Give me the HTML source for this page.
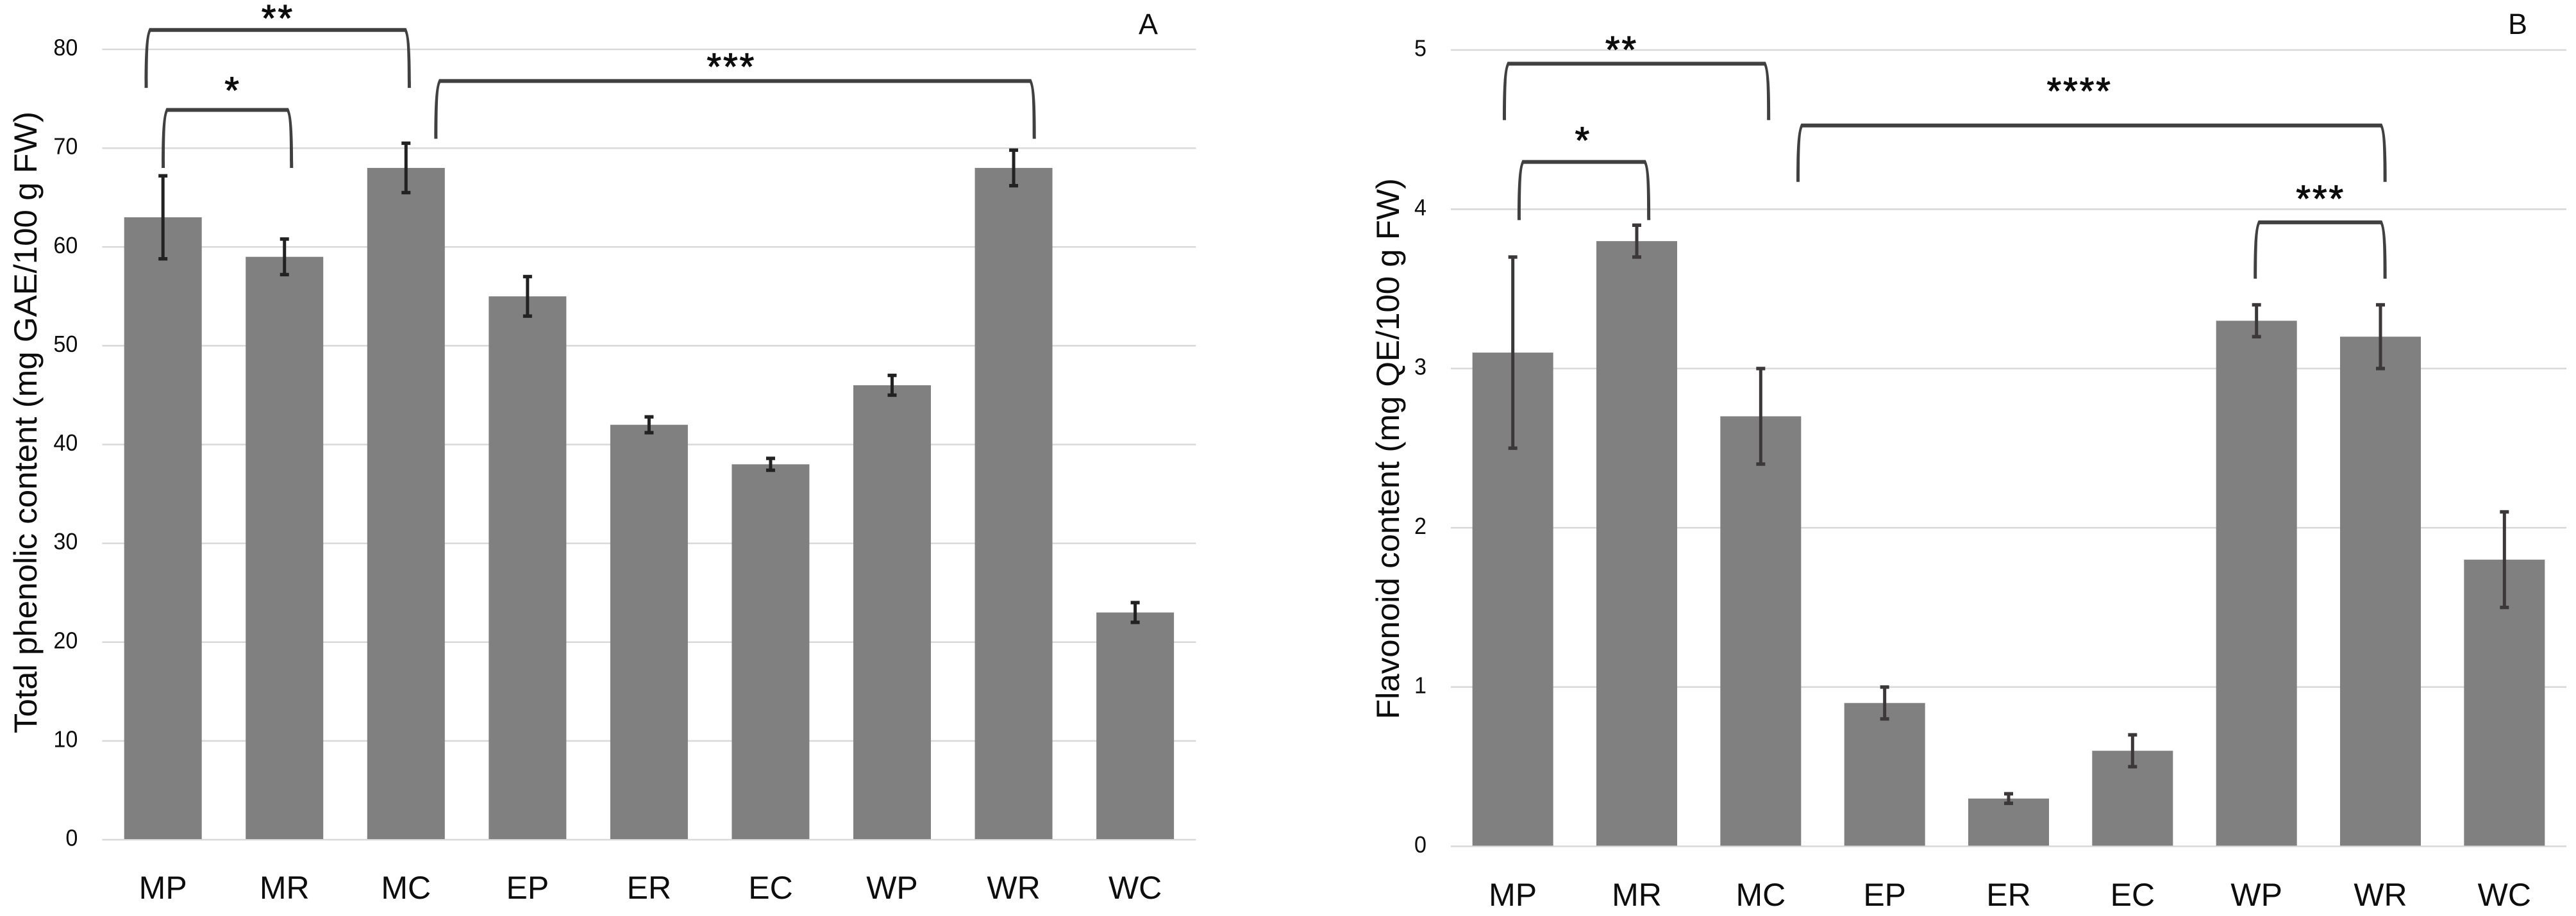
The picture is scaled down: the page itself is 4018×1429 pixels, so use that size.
<!DOCTYPE html>
<html lang="en">
<head>
<meta charset="utf-8">
<title>Total phenolic and flavonoid content</title>
<style>
html,body{margin:0;padding:0;background:#fff;width:4018px;height:1429px;overflow:hidden}
svg{display:block}
text{font-family:"Liberation Sans",sans-serif;fill:#0d0d0d}
</style>
</head>
<body>
<svg id="figure" xmlns="http://www.w3.org/2000/svg" width="4018" height="1429" viewBox="0 0 4018 1429">
  <rect x="0" y="0" width="4018" height="1429" fill="#ffffff"/>
  <g id="chart-a">
    <text transform="translate(57,1144) rotate(-90)" font-size="50" textLength="970" lengthAdjust="spacingAndGlyphs">Total phenolic content (mg GAE/100 g FW)</text>
    <text x="1791" y="53" font-size="45" text-anchor="middle">A</text>
  </g>
  <g id="chart-b">
    <text transform="translate(2182,1122) rotate(-90)" font-size="50" textLength="844" lengthAdjust="spacingAndGlyphs">Flavonoid content (mg QE/100 g FW)</text>
    <text x="3927" y="53" font-size="45" text-anchor="middle">B</text>
  </g>
</svg>
<script>
const categories = ['MP', 'MR', 'MC', 'EP', 'ER', 'EC', 'WP', 'WR', 'WC'];

const phenolicValues = [63, 59, 68, 55, 42, 38, 46, 68, 23];
const phenolicErrors = [4.2, 1.8, 2.5, 2, 0.8, 0.6, 1, 1.8, 1];
const phenolicTicks = [0, 10, 20, 30, 40, 50, 60, 70, 80];

const flavonoidValues = [3.1, 3.8, 2.7, 0.9, 0.3, 0.6, 3.3, 3.2, 1.8];
const flavonoidErrors = [0.6, 0.1, 0.3, 0.1, 0.03, 0.1, 0.1, 0.2, 0.3];
const flavonoidTicks = [0, 1, 2, 3, 4, 5];

// Significance annotations, in axis units: [stars, category from, category to, top value, foot value, star category, star value]
const phenolicBrackets = [
  ['**', -0.138, 2.027, 81.96, 76.1, 0.938, 83.6],
  ['*', 0.002, 1.058, 73.87, 68.0, 0.567, 76.3],
  ['***', 2.246, 7.17, 76.8, 70.95, 4.67, 78.7]
];
const flavonoidBrackets = [
  ['**', -0.068, 2.064, 4.914, 4.56, 0.871, 5.03],
  ['*', 0.051, 1.097, 4.297, 3.932, 0.56, 4.46],
  ['****', 2.301, 7.037, 4.526, 4.172, 4.565, 4.77],
  ['***', 5.99, 7.037, 3.918, 3.564, 6.51, 4.095]
];

const NS = 'http://www.w3.org/2000/svg';

function make(tag, parent) {
  const el = document.createElementNS(NS, tag);
  parent.appendChild(el);
  return el;
}

function drawChart(parent, slug, values, errors, ticks, brackets, frame) {
  const maxTick = ticks[ticks.length - 1];
  const band = (frame.right - frame.left) / categories.length;
  const x = c => frame.left + band * (c + 0.5);
  const y = v => frame.base - (frame.base - frame.top) * v / maxTick;

  ticks.forEach(t => {
    const line = make('line', parent);
    
    
    line.setAttribute('x1', frame.left);
    line.setAttribute('x2', frame.right);
    line.setAttribute('y1', y(t));
    line.setAttribute('y2', y(t));
    line.setAttribute('stroke', '#d9d9d9');
    line.setAttribute('stroke-width', 2.6);

    const label = make('text', parent);
    
    
    label.setAttribute('x', frame.left - 38);
    label.setAttribute('y', y(t) + 9.5);
    label.setAttribute('font-size', 36);
    label.setAttribute('text-anchor', 'end');
    label.setAttribute('textLength', 19 * String(t).length);
    label.setAttribute('lengthAdjust', 'spacingAndGlyphs');
    label.textContent = t;
  });

  categories.forEach((cat, i) => {
    const bar = make('rect', parent);
    
    
    bar.setAttribute('x', x(i) - frame.barWidth / 2);
    bar.setAttribute('y', y(values[i]));
    bar.setAttribute('width', frame.barWidth);
    bar.setAttribute('height', y(0) - y(values[i]) - 1);
    bar.setAttribute('fill', '#808080');

    const hi = y(values[i] + errors[i]);
    const lo = y(values[i] - errors[i]);
    const stem = make('line', parent);
    
    
    stem.setAttribute('x1', x(i));
    stem.setAttribute('x2', x(i));
    stem.setAttribute('y1', hi);
    stem.setAttribute('y2', lo);
    stem.setAttribute('stroke', frame.errorColor);
    stem.setAttribute('stroke-width', 5);

    const capHi = make('rect', parent);
    
    
    capHi.setAttribute('x', x(i) - 7);
    capHi.setAttribute('y', hi - 2.7);
    capHi.setAttribute('width', 14);
    capHi.setAttribute('height', 5.4);
    capHi.setAttribute('fill', frame.errorColor);

    const capLo = make('rect', parent);
    
    
    capLo.setAttribute('x', x(i) - 7);
    capLo.setAttribute('y', lo - 2.7);
    capLo.setAttribute('width', 14);
    capLo.setAttribute('height', 5.4);
    capLo.setAttribute('fill', frame.errorColor);

    const label = make('text', parent);
    
    
    label.setAttribute('x', x(i));
    label.setAttribute('y', frame.labelY);
    label.setAttribute('font-size', 50);
    label.setAttribute('text-anchor', 'middle');
    label.textContent = cat;
  });

  brackets.forEach((b, i) => {
    const x0 = x(b[1]);
    const x1 = x(b[2]);
    const top = y(b[3]);
    const foot = y(b[4]);
    const d = [
      'M', x0 - 2.5, foot,
      'C', x0 - 2.5, top + 30, x0 - 0.5, top + 8, x0 + 5, top - 3,
      'L', x1 - 5, top - 3,
      'C', x1 + 0.5, top + 8, x1 + 2.5, top + 30, x1 + 2.5, foot,
      'L', x1 - 2.5, foot,
      'C', x1 - 2.5, top + 30, x1 - 3.5, top + 10, x1 - 7, top + 3,
      'L', x0 + 7, top + 3,
      'C', x0 + 3.5, top + 10, x0 + 2.5, top + 30, x0 + 2.5, foot,
      'Z'
    ].join(' ');
    const path = make('path', parent);
    
    
    path.setAttribute('d', d);
    path.setAttribute('fill', '#404040');

    const stars = make('text', parent);
    
    
    stars.setAttribute('x', x(b[5]) + 1.5);
    stars.setAttribute('y', y(b[6]) + 27);
    stars.setAttribute('font-size', 58);
    stars.setAttribute('letter-spacing', 3);
    stars.setAttribute('stroke', '#0d0d0d');
    stars.setAttribute('stroke-width', 1.2);
    stars.setAttribute('text-anchor', 'middle');
    stars.textContent = b[0];
  });
}

drawChart(document.getElementById('chart-a'), 'phenolic', phenolicValues, phenolicErrors, phenolicTicks, phenolicBrackets,
  { left: 159.4, right: 1865.4, top: 77, base: 1310, barWidth: 121, labelY: 1402, errorColor: '#222222' });
drawChart(document.getElementById('chart-b'), 'flavonoid', flavonoidValues, flavonoidErrors, flavonoidTicks, flavonoidBrackets,
  { left: 2263, right: 4003, top: 78, base: 1320.3, barWidth: 126, labelY: 1413, errorColor: '#3a3838' });
</script>
</body>
</html>
